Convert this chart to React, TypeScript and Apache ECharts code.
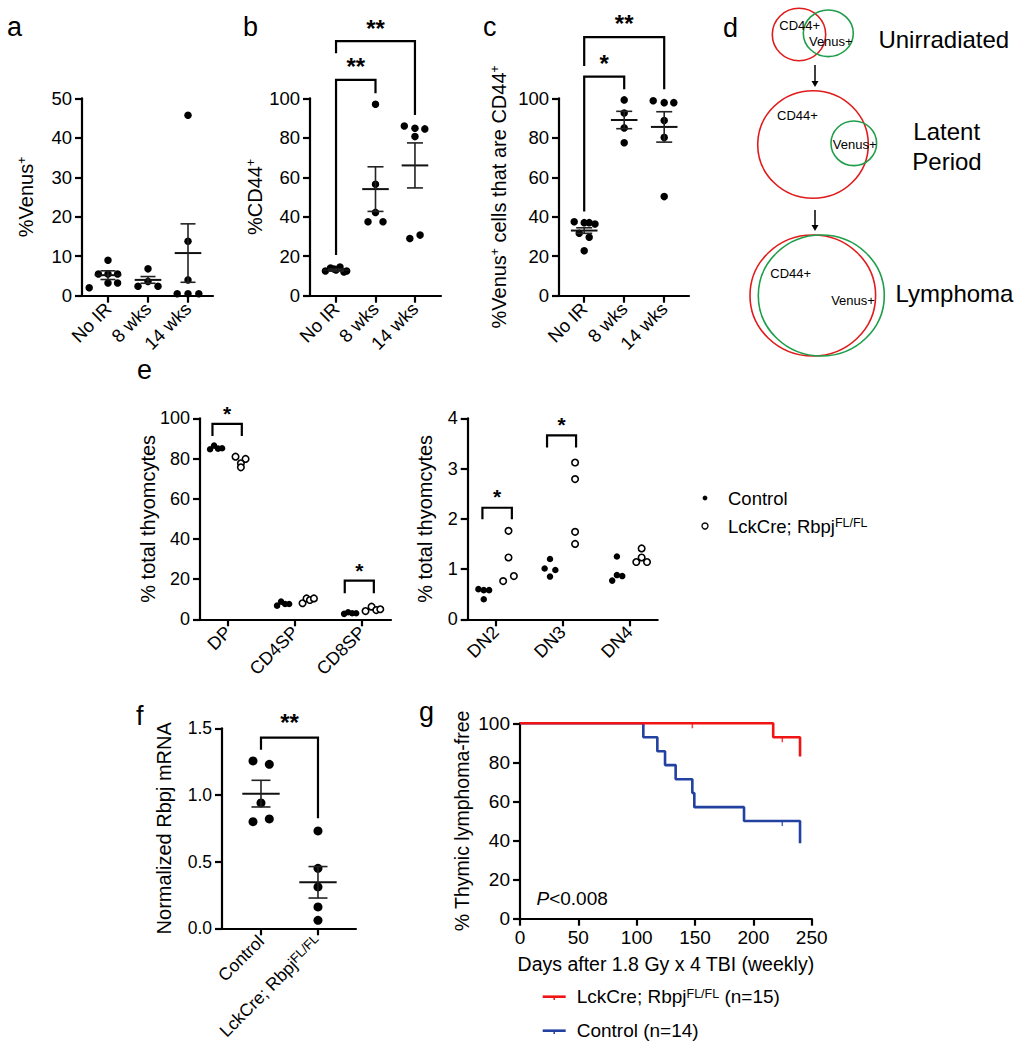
import React, { useEffect, useRef } from 'react';
import * as echarts from 'echarts';

const FONT = '"Liberation Sans", Arial, Helvetica, sans-serif';
const INK = '#000000';

// ---------------- Panel a-c data ----------------
const timeGroups = ['No IR', '8 wks', '14 wks'];

const venusPct = [
  [9.0, 5.5, 5.5, 5.5, 3.2, 3.2, 2.0],
  [6.8, 3.6, 2.4, 2.4],
  [45.7, 13.8, 4.0, 0.5, 0.5, 0.5],
];
const venusJitter = [
  [0, -0.24, 0, 0.24, 0, 0.24, -0.47],
  [0, 0, -0.25, 0.25],
  [0, 0, 0, -0.27, 0, 0.27],
];
const venusMean = [5.2, 4.0, 10.8];
const venusSem = [1.1, 0.85, 7.4];

const cd44Pct = [
  [12.5, 14.0, 13.0, 14.5, 12.0, 12.5, 13.5],
  [97, 56.4, 42.2, 37.5, 37.5],
  [86, 84.8, 84.5, 80.6, 29, 30.7],
];
const cd44Jitter = [
  [-0.27, -0.14, 0, 0.1, 0.2, 0.27, -0.05],
  [0, 0, 0, -0.19, 0.19],
  [-0.27, 0, 0.25, 0, -0.13, 0.13],
];
const cd44Mean = [13, 54, 66];
const cd44Sem = [0.5, 11.3, 11.4];
const cd44Sig = [
  [0, 1, 109.3, 20.6, 102.5, 116],
  [0, 2, 129, 122.8, 91.5, 135.5],
];
const cd44SigLabels = ['**', '**'];

const venusCd44Pct = [
  [37.5, 37, 37, 36.3, 31.6, 29.6, 22.8],
  [99.2, 92.5, 85, 77.5],
  [98.8, 97.8, 97.8, 88.7, 80.2, 50.2],
];
const venusCd44Jitter = [
  [-0.25, 0, 0.125, 0.27, -0.125, 0.125, 0],
  [0, 0, 0, 0],
  [-0.275, 0, 0.24, 0, 0, 0],
];
const venusCd44Mean = [33, 89, 85.5];
const venusCd44Sem = [1.4, 4.4, 7.7];
const venusCd44Sig = [
  [0, 1, 111, 42.6, 104.6, 117.7],
  [0, 2, 131, 116.4, 104.6, 137.7],
];
const venusCd44SigLabels = ['*', '**'];

// ---------------- Panel e data ----------------
const spGroups = ['DP', 'CD4SP', 'CD8SP'];
const spControl = [
  [84.6, 86.4, 84.9, 85.1],
  [6.8, 8.8, 7.6, 7.6],
  [2.7, 3.5, 3.0, 3.0],
];
const spControlJitter = [
  [-0.27, -0.21, -0.15, -0.09],
  [-0.27, -0.21, -0.15, -0.09],
  [-0.27, -0.21, -0.15, -0.09],
];
const spKO = [
  [80.9, 79.8, 77.6, 75.6],
  [8.0, 10.4, 9.6, 10.4],
  [4.1, 6.3, 4.6, 5.0],
];
const spKOJitter = [
  [0.11, 0.26, 0.19, 0.19],
  [0.11, 0.17, 0.22, 0.28],
  [0.05, 0.14, 0.21, 0.27],
];
const spSig = [
  [-0.234, 0.204, 97.2, 91.2, 91.2, 102.5],
  [1.74, 2.174, 19.2, 12.9, 12.9, 24.2],
];
const spSigLabels = ['*', '*'];

const dnGroups = ['DN2', 'DN3', 'DN4'];
const dnControl = [
  [0.6, 0.58, 0.58, 0.4],
  [1.01, 1.2, 0.98, 0.85],
  [0.77, 1.25, 0.88, 0.86],
];
const dnControlJitter = [
  [-0.26, -0.18, -0.1, -0.18],
  [-0.27, -0.19, -0.11, -0.19],
  [-0.26, -0.19, -0.19, -0.11],
];
const dnKO = [
  [0.76, 1.23, 1.76, 0.86],
  [3.12, 2.79, 1.74, 1.5],
  [1.14, 1.41, 1.23, 1.14],
];
const dnKOJitter = [
  [0.11, 0.19, 0.19, 0.27],
  [0.185, 0.185, 0.185, 0.185],
  [0.1, 0.18, 0.18, 0.26],
];
const dnSig = [
  [-0.2, 0.24, 2.22, 1.99, 1.99, 2.44],
  [0.766, 1.2, 3.66, 3.42, 3.42, 3.87],
];
const dnSigLabels = ['*', '*'];

// ---------------- Panel f data ----------------
const rbpjGroups = ['Control', 'LckCre; Rbpj|FL/FL'];
const rbpjMrna = [
  [1.255, 1.23, 0.94, 0.8, 0.82],
  [0.73, 0.45, 0.31, 0.16, 0.06],
];
const rbpjJitter = [
  [-0.14, 0.146, 0, -0.14, 0.146],
  [0, 0, 0, 0, 0],
];
const rbpjMean = [1.01, 0.345];
const rbpjSem = [0.1, 0.118];
const rbpjSig = [[0, 1, 1.43, 1.34, 0.825, 1.54]];
const rbpjSigLabels = ['**'];

// ---------------- Panel g data ----------------
const kmKoDays = [0, 217, 240];
const kmKoSurv = [100, 92.86, 83];
const kmKoCensorDays = [147.7, 224.8];
const kmKoCensorSurv = [100, 92.86];
const kmCtrlDays = [0, 105.7, 117.7, 124.3, 133.4, 147.7, 149.4, 192, 240];
const kmCtrlSurv = [100, 92.86, 85.7, 78.6, 71.4, 64.3, 57.1, 50, 38.6];
const kmCtrlCensorDays = [224.8];
const kmCtrlCensorSurv = [50];

const RED = '#f01414';
const BLUE = '#2341a0';

// ---------------- helpers ----------------
const lineStyle = { color: INK, width: 2.2 };

function catXAxis(gridIndex: number, min: number, max: number, labels: string[], fontSize: number, formatter?: (s: string) => string, rich?: any) {
  const idx = labels.map((_, i) => i);
  return {
    type: 'value',
    gridIndex,
    min,
    max,
    axisLine: { show: true, onZero: false, lineStyle },
    axisTick: { show: true, customValues: idx, length: 7, lineStyle },
    axisLabel: {
      show: true,
      customValues: idx,
      rotate: 45,
      margin: 10,
      fontSize,
      color: INK,
      fontFamily: FONT,
      formatter: (v: number) => {
        const s = labels[Math.round(v)] ?? '';
        return formatter ? formatter(s) : s;
      },
      rich,
    },
    splitLine: { show: false },
  };
}

const supRich = (size: number) => ({
  sup: { fontSize: size, verticalAlign: 'top', fontFamily: FONT, color: INK },
});

function valYAxis(gridIndex: number, min: number, max: number, interval: number, name: string, nameGap: number, labelSize: number, nameSize: number, formatter?: (v: number) => string) {
  return {
    type: 'value',
    gridIndex,
    min,
    max,
    interval,
    axisLine: { show: true, onZero: false, lineStyle },
    axisTick: { show: true, length: 7, lineStyle },
    axisLabel: { fontSize: labelSize, color: INK, fontFamily: FONT, margin: 10, formatter },
    splitLine: { show: false },
    name,
    nameLocation: 'middle',
    nameGap,
    nameMoveOverlap: false,
    nameTextStyle: { fontSize: nameSize, color: INK, fontFamily: FONT, rich: supRich(Math.round(nameSize * 0.62)) },
  };
}

function dotSeries(gi: number, values: number[][], jitter: number[][], size: number, open: boolean) {
  const data: number[][] = [];
  values.forEach((arr, i) => arr.forEach((v, j) => data.push([i + jitter[i][j], v])));
  return {
    type: 'scatter',
    xAxisIndex: gi,
    yAxisIndex: gi,
    data,
    symbol: 'circle',
    symbolSize: size,
    silent: true,
    z: 3,
    itemStyle: open
      ? { color: '#ffffff', borderColor: INK, borderWidth: 1.6, opacity: 1 }
      : { color: INK, opacity: 1 },
  };
}

function meanSemSeries(gi: number, means: number[], sems: number[], hw: number, cw: number) {
  return {
    type: 'custom',
    xAxisIndex: gi,
    yAxisIndex: gi,
    clip: false,
    silent: true,
    z: 4,
    data: means.map((m, i) => [i, m, sems[i]]),
    renderItem: (_p: any, api: any) => {
      const x = api.value(0);
      const m = api.value(1);
      const s = api.value(2);
      const c = api.coord([x, m]);
      const t = api.coord([x, m + s]);
      const b = api.coord([x, m - s]);
      const st = { stroke: '#222', lineWidth: 1.6 };
      return {
        type: 'group',
        children: [
          { type: 'line', shape: { x1: c[0] - hw, y1: c[1], x2: c[0] + hw, y2: c[1] }, style: { stroke: '#111', lineWidth: 2 } },
          { type: 'line', shape: { x1: c[0], y1: t[1], x2: c[0], y2: b[1] }, style: st },
          { type: 'line', shape: { x1: c[0] - cw, y1: t[1], x2: c[0] + cw, y2: t[1] }, style: st },
          { type: 'line', shape: { x1: c[0] - cw, y1: b[1], x2: c[0] + cw, y2: b[1] }, style: st },
        ],
      };
    },
  };
}

function bracketSeries(gi: number, rows: number[][], labels: string[], fontSize: number) {
  return {
    type: 'custom',
    xAxisIndex: gi,
    yAxisIndex: gi,
    clip: false,
    silent: true,
    z: 5,
    data: rows,
    renderItem: (p: any, api: any) => {
      const x1 = api.value(0), x2 = api.value(1), yT = api.value(2), yL = api.value(3), yR = api.value(4), yS = api.value(5);
      const a = api.coord([x1, yL]);
      const b = api.coord([x1, yT]);
      const c = api.coord([x2, yT]);
      const d = api.coord([x2, yR]);
      const s = api.coord([(x1 + x2) / 2, yS]);
      return {
        type: 'group',
        children: [
          { type: 'polyline', shape: { points: [a, b, c, d] }, style: { stroke: INK, lineWidth: 2.2, fill: 'none' } },
          {
            type: 'text',
            x: s[0],
            y: s[1],
            style: { text: labels[p.dataIndex], fontSize, fontWeight: 'bold', fontFamily: FONT, fill: INK, align: 'center', verticalAlign: 'middle' },
          },
        ],
      };
    },
  };
}

function zip(a: number[], b: number[]) {
  return a.map((v, i) => [v, b[i]]);
}

function txt(text: string, x: number, y: number, fontSize: number, align = 'left', extra: any = {}) {
  return {
    type: 'text',
    x,
    y,
    silent: true,
    style: { text, fontSize, fontFamily: FONT, fill: INK, align, verticalAlign: 'middle', ...extra },
  };
}

function ell(cx: number, cy: number, rx: number, ry: number, color: string) {
  return { type: 'ellipse', silent: true, shape: { cx, cy, rx, ry }, style: { fill: 'none', stroke: color, lineWidth: 1.6 } };
}

function arrow(x: number, y1: number, y2: number) {
  return [
    { type: 'line', silent: true, shape: { x1: x, y1, x2: x, y2: y2 - 4 }, style: { stroke: INK, lineWidth: 1.5 } },
    { type: 'polygon', silent: true, shape: { points: [[x - 3.5, y2 - 6], [x + 3.5, y2 - 6], [x, y2]] }, style: { fill: INK } },
  ];
}

function buildOption() {
  const grids = [
    { left: 82, top: 98.3, width: 131, height: 197.4 },
    { left: 310, top: 98.3, width: 131, height: 197.4 },
    { left: 559, top: 98.3, width: 130, height: 197.4 },
    { left: 200, top: 418.3, width: 191, height: 201 },
    { left: 467.7, top: 418.3, width: 190, height: 201 },
    { left: 222, top: 728.3, width: 134, height: 200 },
    { left: 520, top: 723.3, width: 291.7, height: 195.4 },
  ].map((g) => ({ ...g, containLabel: false, outerBoundsMode: 'none' }));

  const koFmt = (s: string) => {
    const [base, sup] = s.split('|');
    return sup ? `${base}{sup|${sup}}` : base;
  };

  const xAxis = [
    catXAxis(0, -0.65, 2.625, timeGroups, 18.5),
    catXAxis(1, -0.66, 2.66, timeGroups, 18.5),
    catXAxis(2, -0.63, 2.62, timeGroups, 18.5),
    catXAxis(3, -0.42, 2.43, spGroups, 18),
    catXAxis(4, -0.42, 2.42, dnGroups, 18),
    catXAxis(5, -0.684, 1.667, rbpjGroups, 17.5, koFmt, { sup: { fontSize: 13, verticalAlign: 'top', fontFamily: FONT, color: INK } }),
    {
      type: 'value',
      gridIndex: 6,
      min: 0,
      max: 250,
      interval: 50,
      axisLine: { show: true, onZero: false, lineStyle },
      axisTick: { show: true, length: 7, lineStyle },
      axisLabel: { fontSize: 19, color: INK, fontFamily: FONT, margin: 9 },
      splitLine: { show: false },
      name: 'Days after 1.8 Gy x 4 TBI (weekly)',
      nameLocation: 'middle',
      nameGap: 35,
      nameMoveOverlap: false,
      nameTextStyle: { fontSize: 19.5, color: INK, fontFamily: FONT },
    },
  ];

  const yAxis = [
    valYAxis(0, 0, 50, 10, '%Venus{sup|+}', 46, 18.5, 20),
    valYAxis(1, 0, 100, 20, '%CD44{sup|+}', 45, 18.5, 20),
    valYAxis(2, 0, 100, 20, '%Venus{sup|+} cells that are CD44{sup|+}', 50, 18.5, 20),
    valYAxis(3, 0, 100, 20, '% total thyomcytes', 42, 18, 20),
    valYAxis(4, 0, 4, 1, '% total thyomcytes', 33, 18, 20),
    valYAxis(5, 0, 1.5, 0.5, 'Normalized Rbpj mRNA', 48, 17.5, 20),
    valYAxis(6, 0, 100, 20, '% Thymic lymphoma-free', 48, 19, 19.5),
  ];
  (yAxis[5].axisLabel as any).formatter = (v: number) => v.toFixed(1);

  const series: any[] = [
    // a
    dotSeries(0, venusPct, venusJitter, 7.5, false),
    meanSemSeries(0, venusMean, venusSem, 13.3, 7.5),
    // b
    dotSeries(1, cd44Pct, cd44Jitter, 7.5, false),
    meanSemSeries(1, cd44Mean, cd44Sem, 13.3, 8),
    bracketSeries(1, cd44Sig, cd44SigLabels, 24),
    // c
    dotSeries(2, venusCd44Pct, venusCd44Jitter, 7.5, false),
    meanSemSeries(2, venusCd44Mean, venusCd44Sem, 13.3, 8),
    bracketSeries(2, venusCd44Sig, venusCd44SigLabels, 24),
    // e left
    dotSeries(3, spControl, spControlJitter, 6.5, false),
    dotSeries(3, spKO, spKOJitter, 6.5, true),
    bracketSeries(3, spSig, spSigLabels, 21),
    // e right
    dotSeries(4, dnControl, dnControlJitter, 6.5, false),
    dotSeries(4, dnKO, dnKOJitter, 6.5, true),
    bracketSeries(4, dnSig, dnSigLabels, 21),
    // f
    dotSeries(5, rbpjMrna, rbpjJitter, 9, false),
    meanSemSeries(5, rbpjMean, rbpjSem, 18.7, 9.5),
    bracketSeries(5, rbpjSig, rbpjSigLabels, 24),
    // g
    {
      type: 'line',
      xAxisIndex: 6,
      yAxisIndex: 6,
      step: 'end',
      data: zip(kmKoDays, kmKoSurv),
      symbol: 'none',
      clip: false,
      silent: true,
      z: 4,
      lineStyle: { color: RED, width: 2.6 },
    },
    {
      type: 'line',
      xAxisIndex: 6,
      yAxisIndex: 6,
      step: 'end',
      data: zip(kmCtrlDays, kmCtrlSurv),
      symbol: 'none',
      clip: false,
      silent: true,
      z: 3,
      lineStyle: { color: BLUE, width: 2.6 },
    },
    {
      type: 'scatter',
      xAxisIndex: 6,
      yAxisIndex: 6,
      data: zip(kmKoCensorDays, kmKoCensorSurv),
      symbol: 'rect',
      symbolSize: [1.5, 5],
      symbolOffset: [0, 2.5],
      silent: true,
      itemStyle: { color: RED },
      z: 5,
    },
    {
      type: 'scatter',
      xAxisIndex: 6,
      yAxisIndex: 6,
      data: zip(kmCtrlCensorDays, kmCtrlCensorSurv),
      symbol: 'rect',
      symbolSize: [1.5, 5],
      symbolOffset: [0, 2.5],
      silent: true,
      itemStyle: { color: BLUE },
      z: 5,
    },
  ];

  const supStyle = (size: number) => ({ sup: { fontSize: size, verticalAlign: 'top', fontFamily: FONT, fill: INK } });

  const graphic: any[] = [
    // panel letters
    txt('a', 7, 27, 27),
    txt('b', 243, 27, 27),
    txt('c', 483, 27, 27),
    txt('d', 723, 28, 27),
    txt('e', 137, 370, 27),
    txt('f', 136, 716, 27),
    txt('g', 419, 712, 27),
    // panel d diagram
    ell(799, 34.5, 26.7, 26.2, '#e01b1b'),
    ell(828.3, 33.3, 25, 23.3, '#1e9e4a'),
    txt('CD44+', 799.7, 25, 13, 'center'),
    txt('Venus+', 830.8, 41.7, 13, 'center'),
    txt('Unirradiated', 943.8, 39.3, 24, 'center'),
    ...arrow(815, 65, 87),
    ell(813, 144.5, 55.3, 53.8, '#e01b1b'),
    ell(853.8, 143.3, 22.8, 22.3, '#1e9e4a'),
    txt('CD44+', 797.5, 115, 13, 'center'),
    txt('Venus+', 854.7, 144, 13, 'center'),
    txt('Latent', 946.7, 131.7, 24, 'center'),
    txt('Period', 947, 161, 24, 'center'),
    ...arrow(815, 210, 231),
    ell(812.8, 295.5, 62.8, 60.5, '#e01b1b'),
    ell(821.3, 295.5, 63, 60.5, '#1e9e4a'),
    txt('CD44+', 790.7, 273.3, 13, 'center'),
    txt('Venus+', 853, 300, 13, 'center'),
    txt('Lymphoma', 954.5, 293, 24, 'center'),
    // panel e legend
    { type: 'circle', silent: true, shape: { cx: 705, cy: 498, r: 2.4 }, style: { fill: INK } },
    txt('Control', 728, 498, 18.5),
    { type: 'circle', silent: true, shape: { cx: 705, cy: 526, r: 3 }, style: { fill: '#fff', stroke: INK, lineWidth: 1.3 } },
    txt('LckCre; Rbpj{sup|FL/FL}', 728, 526, 18.5, 'left', { rich: supStyle(12.5) }),
    // panel g annotation and legend
    txt('{i|P}<0.008', 536.5, 898, 19, 'left', { rich: { i: { fontStyle: 'italic', fontSize: 19, fontFamily: FONT, fill: INK } } }),
    { type: 'line', silent: true, shape: { x1: 542.7, y1: 996.7, x2: 565.7, y2: 996.7 }, style: { stroke: RED, lineWidth: 2.6 } },
    { type: 'line', silent: true, shape: { x1: 554.2, y1: 996.7, x2: 554.2, y2: 1000 }, style: { stroke: RED, lineWidth: 1.5 } },
    txt('LckCre; Rbpj{sup|FL/FL} (n=15)', 576.7, 996.7, 19, 'left', { rich: supStyle(12.5) }),
    { type: 'line', silent: true, shape: { x1: 542.7, y1: 1030.7, x2: 565.7, y2: 1030.7 }, style: { stroke: BLUE, lineWidth: 2.6 } },
    { type: 'line', silent: true, shape: { x1: 554.2, y1: 1030.7, x2: 554.2, y2: 1034 }, style: { stroke: BLUE, lineWidth: 1.5 } },
    txt('Control (n=14)', 576.7, 1030.7, 19),
  ];

  return {
    animation: false,
    backgroundColor: '#ffffff',
    textStyle: { fontFamily: FONT },
    grid: grids,
    xAxis,
    yAxis,
    series,
    graphic,
  };
}

const App = () => {
  const ref = useRef<HTMLDivElement>(null);
  useEffect(() => {
    document.body.style.margin = '0';
    const chart = echarts.init(ref.current as HTMLDivElement, null, { renderer: 'svg' });
    chart.setOption(buildOption() as any);
    return () => chart.dispose();
  }, []);
  return <div ref={ref} style={{ width: 1021, height: 1050 }} />;
};

export default App;
